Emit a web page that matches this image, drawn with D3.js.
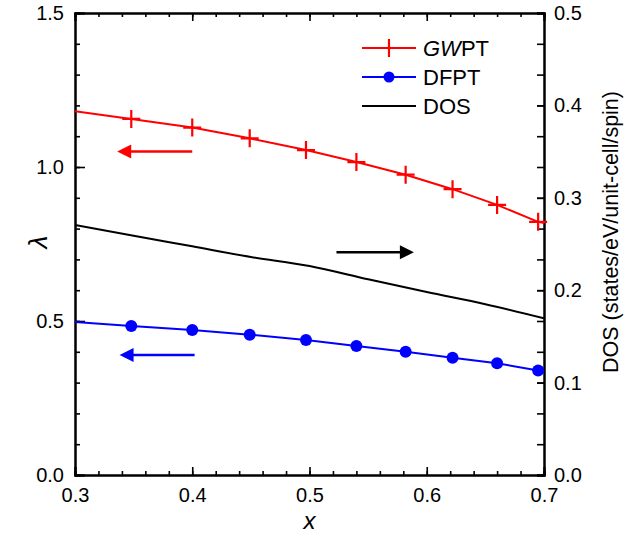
<!DOCTYPE html>
<html>
<head>
<meta charset="utf-8">
<script src="https://cdn.jsdelivr.net/npm/d3@7"></script>
<style>
  body { margin: 0; background: #fff; }
  text { font-family: Arial, "Liberation Sans", sans-serif; }
</style>
</head>
<body>
<div class="chart"></div>
<script>
// data
const gwptX = [0.3, 0.348, 0.400, 0.449, 0.497, 0.540, 0.582, 0.622, 0.660, 0.695, 0.7];
const gwptY = [1.181, 1.156, 1.128, 1.093, 1.055, 1.016, 0.975, 0.928, 0.877, 0.822, 0.818];
const dfptX = [0.3, 0.348, 0.400, 0.449, 0.497, 0.540, 0.582, 0.622, 0.660, 0.695, 0.7];
const dfptY = [0.497, 0.484, 0.471, 0.4555, 0.438, 0.419, 0.400, 0.381, 0.363, 0.339, 0.336];
const dosX = [0.3, 0.35, 0.4, 0.45, 0.5, 0.55, 0.6, 0.65, 0.7];
const dosY = [0.2706, 0.259, 0.2475, 0.236, 0.2262, 0.2118, 0.198, 0.1849, 0.1696];

const xTickLabels = [0.3, 0.4, 0.5, 0.6, 0.7];
const lambdaTickLabels = [0.0, 0.5, 1.0, 1.5];
const dosTickLabels = [0.0, 0.1, 0.2, 0.3, 0.4, 0.5];

let svgWidth = 627;
let svgHeight = 541;
const margin = {top: 13, right: 83, bottom: 66, left: 75};
let chartWidth = svgWidth - margin.left - margin.right;
let chartHeight = svgHeight - margin.top - margin.bottom;

let svg = d3.select(".chart").append("svg")
  .attr("width", svgWidth)
  .attr("height", svgHeight);

let chart = svg.append("g")
  .attr("transform", `translate(${margin.left},${margin.top})`);

let xScale = d3.scaleLinear().domain([0.3, 0.7]).range([0, chartWidth]);
let yScale = d3.scaleLinear().domain([0, 1.5]).range([chartHeight, 0]);
let y2Scale = d3.scaleLinear().domain([0, 0.5]).range([chartHeight, 0]);

svg.append("defs").append("clipPath").attr("id", "clip")
  .append("rect").attr("width", chartWidth).attr("height", chartHeight);

const fmt = d3.format(".1f");
const minorX = d3.range(0.3, 0.7001, 0.02);
const minorY = d3.range(0, 1.5001, 0.1);
const minorY2 = d3.range(0, 0.5001, 0.1 / 3);

// bottom axis
let bottomAxis = chart.append("g").attr("transform", `translate(0,${chartHeight})`);
bottomAxis.call(d3.axisBottom(xScale).tickValues(minorX).tickSize(-4).tickFormat(""));
bottomAxis.append("g").call(d3.axisBottom(xScale).tickValues(xTickLabels).tickSize(-8).tickPadding(13).tickFormat(fmt));
// top axis
let topAxis = chart.append("g");
topAxis.call(d3.axisTop(xScale).tickValues(minorX).tickSize(-4).tickFormat(""));
topAxis.append("g").call(d3.axisTop(xScale).tickValues(xTickLabels).tickSize(-8).tickFormat(""));
// left axis
let leftAxis = chart.append("g");
leftAxis.call(d3.axisLeft(yScale).tickValues(minorY).tickSize(-5).tickFormat(""));
leftAxis.append("g").call(d3.axisLeft(yScale).tickValues(lambdaTickLabels).tickSize(-10).tickPadding(11).tickFormat(fmt));
// right axis
let rightAxis = chart.append("g").attr("transform", `translate(${chartWidth},0)`);
rightAxis.call(d3.axisRight(y2Scale).tickValues(minorY2).tickSize(-7).tickFormat(""));
rightAxis.append("g").call(d3.axisRight(y2Scale).tickValues(dosTickLabels).tickSize(-7).tickPadding(10).tickFormat(fmt));

chart.selectAll(".domain").attr("stroke", "#000").attr("stroke-width", 2);
chart.selectAll(".tick line").attr("stroke", "#000").attr("stroke-width", 1.6);
chart.selectAll(".tick text").attr("font-size", 20).attr("fill", "#000")
  .attr("font-family", "Arial, 'Liberation Sans', sans-serif");

// lines
let plot = chart.append("g").attr("clip-path", "url(#clip)");

let gwptData = gwptX.map((x, i) => ({x: x, y: gwptY[i]}));
let dfptData = dfptX.map((x, i) => ({x: x, y: dfptY[i]}));
let dosData = dosX.map((x, i) => ({x: x, y: dosY[i]}));

let line1 = d3.line().x(d => xScale(d.x)).y(d => yScale(d.y));
let line2 = d3.line().x(d => xScale(d.x)).y(d => y2Scale(d.y)).curve(d3.curveMonotoneX);

plot.append("path").datum(dosData).attr("d", line2)
  .attr("fill", "none").attr("stroke", "#000").attr("stroke-width", 2);
plot.append("path").datum(gwptData).attr("d", line1)
  .attr("fill", "none").attr("stroke", "#ff0000").attr("stroke-width", 2);
plot.append("path").datum(dfptData).attr("d", line1)
  .attr("fill", "none").attr("stroke", "#0000ff").attr("stroke-width", 2);

// markers
let inside = d => d.x > 0.3 && d.x < 0.7;
let plusPath = s => `M${-s},0H${s}M0,${-s}V${s}`;
chart.append("g").selectAll("path")
  .data(gwptData.filter(inside))
  .enter().append("path")
  .attr("transform", d => `translate(${xScale(d.x)},${yScale(d.y)})`)
  .attr("d", plusPath(9))
  .attr("stroke", "#ff0000").attr("stroke-width", 2.2);

chart.append("g").selectAll("circle")
  .data(dfptData.filter(inside))
  .enter().append("circle")
  .attr("cx", d => xScale(d.x))
  .attr("cy", d => yScale(d.y))
  .attr("r", 6)
  .attr("fill", "#0000ff");

// arrows
function arrow(x1, x2, y, color) {
  let px1 = xScale(x1), px2 = xScale(x2), py = y;
  let dir = Math.sign(px2 - px1);
  let headLen = 14, headHalf = 7;
  chart.append("line")
    .attr("x1", px1).attr("x2", px2 - dir * headLen + dir)
    .attr("y1", py).attr("y2", py)
    .attr("stroke", color).attr("stroke-width", 2.5);
  chart.append("path")
    .attr("d", `M${px2},${py}L${px2 - dir * headLen},${py - headHalf}L${px2 - dir * headLen},${py + headHalf}Z`)
    .attr("fill", color);
}
arrow(0.4, 0.336, yScale(1.05), "#ff0000");
arrow(0.402, 0.338, yScale(0.39), "#0000ff");
arrow(0.523, 0.589, y2Scale(0.241), "#000");

// legend
let legend = svg.append("g");
const legendItems = [
  {color: "#ff0000", mark: "plus", y: 48},
  {color: "#0000ff", mark: "dot", y: 77},
  {color: "#000", mark: "none", y: 106}
];
legendItems.forEach(item => {
  legend.append("line").attr("x1", 362).attr("x2", 416).attr("y1", item.y).attr("y2", item.y)
    .attr("stroke", item.color).attr("stroke-width", 2);
  if (item.mark === "plus") {
    legend.append("path").attr("transform", `translate(389,${item.y})`).attr("d", plusPath(9))
      .attr("stroke", item.color).attr("stroke-width", 2.2);
  } else if (item.mark === "dot") {
    legend.append("circle").attr("cx", 389).attr("cy", item.y).attr("r", 5.5).attr("fill", item.color);
  }
});
let t1 = legend.append("text").attr("x", 423).attr("y", 48).attr("dy", "0.36em").attr("font-size", 22);
t1.append("tspan").attr("font-style", "italic").text("GW");
t1.append("tspan").text("PT");
legend.append("text").attr("x", 423).attr("y", 77).attr("dy", "0.36em").attr("font-size", 22).text("DFPT");
legend.append("text").attr("x", 423).attr("y", 106).attr("dy", "0.36em").attr("font-size", 22).text("DOS");

// axis titles
svg.append("text")
  .attr("transform", `translate(${margin.left + chartWidth / 2},529)`)
  .attr("text-anchor", "middle").attr("font-size", 24).attr("font-style", "italic").text("x");
svg.append("text")
  .attr("transform", "translate(47,242) rotate(-90)")
  .attr("text-anchor", "middle").attr("font-size", 26).attr("font-style", "italic").text("λ");
svg.append("text")
  .attr("transform", "translate(618,232) rotate(-90)")
  .attr("text-anchor", "middle").attr("font-size", 21.5).text("DOS (states/eV/unit-cell/spin)");
</script>
</body>
</html>
